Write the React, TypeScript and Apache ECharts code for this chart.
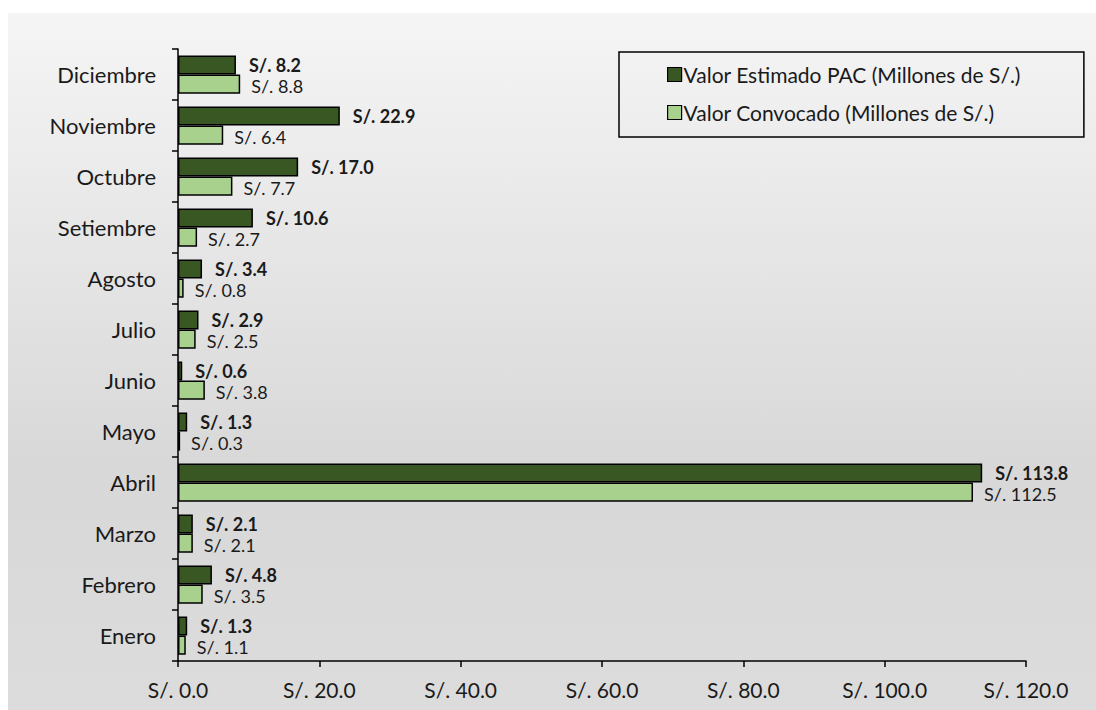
import React, { useEffect, useRef } from "react";
import * as echarts from "echarts";

const months = ["Enero", "Febrero", "Marzo", "Abril", "Mayo", "Junio", "Julio", "Agosto", "Setiembre", "Octubre", "Noviembre", "Diciembre"];
const estimado = [1.3, 4.8, 2.1, 113.8, 1.3, 0.6, 2.9, 3.4, 10.6, 17.0, 22.9, 8.2];
const convocado = [1.1, 3.5, 2.1, 112.5, 0.3, 3.8, 2.5, 0.8, 2.7, 7.7, 6.4, 8.8];
const nameEstimado = "Valor Estimado PAC (Millones de S/.)";
const nameConvocado = "Valor Convocado (Millones de S/.)";

const FONT = "Lato";
const fmt = (v: number) => "S/. " + v.toFixed(1);

export default function App() {
  const ref = useRef<HTMLDivElement>(null);
  useEffect(() => {
    if (!ref.current) return;
    const chart = echarts.init(ref.current, undefined, { renderer: "svg" });
    chart.setOption({
      animation: false,
      backgroundColor: new echarts.graphic.LinearGradient(0, 0, 0, 1, [
        { offset: 0, color: "#f5f5f5" },
        { offset: 0.65, color: "#d8d8d8" },
        { offset: 1, color: "#dcdcdc" },
      ]),
      textStyle: { fontFamily: FONT },
      grid: { left: 170, top: 36, right: 70, bottom: 49, containLabel: false },
      legend: {
        orient: "vertical",
        left: 611,
        top: 39,
        data: [nameEstimado, nameConvocado],
        itemWidth: 14,
        itemHeight: 14,
        itemGap: 17,
        padding: [12, 63, 14, 48],
        borderColor: "#000",
        borderWidth: 1.5,
        icon: "rect",
        textStyle: { fontFamily: FONT, fontSize: 21, color: "#1a1a1a", padding: [0, 0, 0, -3] },
        itemStyle: { borderColor: "#000", borderWidth: 1.2 },
      },
      xAxis: {
        type: "value",
        min: 0,
        max: 120,
        interval: 20,
        splitLine: { show: false },
        axisLine: { show: true, lineStyle: { color: "#000", width: 1.5 } },
        axisTick: { show: true, length: 6, lineStyle: { color: "#000", width: 1.5 } },
        axisLabel: { formatter: (v: number) => fmt(v), fontFamily: FONT, fontSize: 21, color: "#1a1a1a", margin: 18 },
      },
      yAxis: {
        type: "category",
        data: months,
        axisLine: { show: true, lineStyle: { color: "#000", width: 1.5 } },
        axisTick: { show: true, length: 6, lineStyle: { color: "#000", width: 1.5 } },
        axisLabel: { fontFamily: FONT, fontSize: 22, color: "#1a1a1a", margin: 22 },
      },
      series: [
        {
          name: nameEstimado,
          type: "bar",
          data: estimado,
          barGap: "0%",
          barCategoryGap: "25%",
          itemStyle: { color: "#385723", borderColor: "#000", borderWidth: 1.5 },
          label: {
            show: true,
            position: "right",
            distance: 13,
            formatter: (p: any) => fmt(p.value),
            fontFamily: FONT,
            fontSize: 18,
            lineHeight: 18,
            fontWeight: "bold",
            color: "#1a1a1a",
            offset: [0, 0],
          },
        },
        {
          name: nameConvocado,
          type: "bar",
          data: convocado,
          barGap: "0%",
          barCategoryGap: "25%",
          itemStyle: { color: "#a9d18e", borderColor: "#000", borderWidth: 1.5 },
          label: {
            show: true,
            position: "right",
            distance: 11,
            formatter: (p: any) => fmt(p.value),
            fontFamily: FONT,
            fontSize: 18,
            lineHeight: 18,
            color: "#1a1a1a",
            offset: [0, 2],
          },
        },
      ],
    });
    return () => chart.dispose();
  }, []);
  return (
    <div
      ref={ref}
      style={{ position: "absolute", left: 8, top: 13, width: 1088, height: 697 }}
    />
  );
}
